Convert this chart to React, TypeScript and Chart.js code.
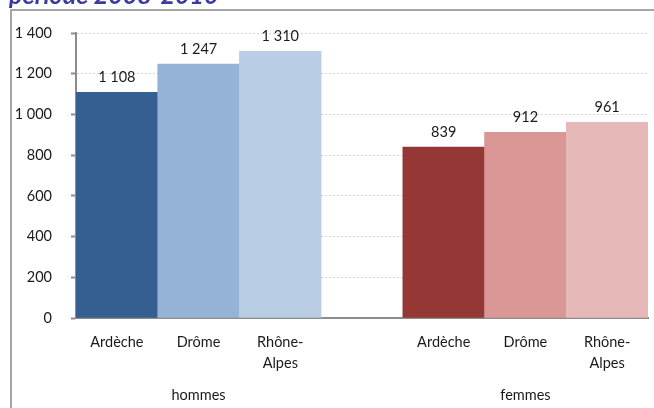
import React, { useEffect, useRef } from "react";
import { Chart, registerables } from "chart.js";

Chart.register(...registerables);

const titleText = "période 2008-2010";
const sexes = ["hommes", "femmes"];
const territories: string[][] = [["Ardèche"], ["Drôme"], ["Rhône-", "Alpes"]];
const hommesValues = [1108, 1247, 1310];
const femmesValues = [839, 912, 961];
const hommesColors = ["#355e91", "#95b3d7", "#b9cde5"];
const femmesColors = ["#953735", "#d99694", "#e6b9b8"];
const yMin = 0;
const yMax = 1400;
const yStep = 200;

const FONT = "Lato, 'Open Sans', sans-serif";
const FS = 14.5;

const fmt = (v: number) => String(v).replace(/\B(?=(\d{3})+(?!\d))/g, " ");

export default function App() {
  const ref = useRef<HTMLCanvasElement | null>(null);

  useEffect(() => {
    if (!ref.current) return;
    const labels: (string | string[])[] = [...territories, "", ...territories];
    const data: (number | null)[] = [...hommesValues, null, ...femmesValues];
    const colors = [...hommesColors, "rgba(0,0,0,0)", ...femmesColors];
    const groupRanges = [
      [0, territories.length - 1],
      [territories.length + 1, territories.length * 2],
    ];

    const framePlugin = {
      id: "frame",
      beforeDraw(chart: any) {
        const ctx = chart.ctx;
        ctx.save();
        ctx.fillStyle = "#ffffff";
        ctx.fillRect(0, 0, chart.width, chart.height);
        ctx.restore();
      },
      afterDraw(chart: any) {
        const ctx = chart.ctx;
        ctx.save();
        ctx.strokeStyle = "#a6a6a6";
        ctx.lineWidth = 2;
        ctx.beginPath();
        ctx.moveTo(11, chart.height + 10);
        ctx.lineTo(11, 10);
        ctx.lineTo(chart.width + 10, 10);
        ctx.stroke();
        ctx.fillStyle = "#3b3b9e";
        ctx.font = `italic bold 25px ${FONT}`;
        ctx.textAlign = "left";
        ctx.textBaseline = "alphabetic";
        ctx.fillText(titleText, 9, 4);
        ctx.restore();
      },
    };

    const labelPlugin = {
      id: "valueLabels",
      afterDatasetsDraw(chart: any) {
        const ctx = chart.ctx;
        const meta = chart.getDatasetMeta(0);
        ctx.save();
        ctx.font = `${FS}px ${FONT}`;
        ctx.fillStyle = "#1a1a1a";
        ctx.textAlign = "center";
        ctx.textBaseline = "middle";
        meta.data.forEach((el: any, i: number) => {
          const v = data[i];
          if (v == null) return;
          ctx.fillText(fmt(v), el.x, el.y - 15);
        });
        ctx.restore();
      },
      afterDraw(chart: any) {
        const ctx = chart.ctx;
        const xs = chart.scales.x;
        ctx.save();
        ctx.font = `${FS}px ${FONT}`;
        ctx.fillStyle = "#1a1a1a";
        ctx.textAlign = "center";
        ctx.textBaseline = "middle";
        sexes.forEach((s, g) => {
          const [a, b] = groupRanges[g];
          const x = (xs.getPixelForValue(a) + xs.getPixelForValue(b)) / 2;
          ctx.fillText(s, x, chart.chartArea.bottom + 77);
        });
        ctx.restore();
      },
    };

    const chart = new Chart(ref.current, {
      type: "bar",
      data: {
        labels,
        datasets: [
          {
            data,
            backgroundColor: colors,
            borderWidth: 0,
            barPercentage: 1,
            categoryPercentage: 1,
          },
        ],
      },
      options: {
        responsive: false,
        animation: false,
        layout: { padding: { top: 33, right: 6, left: 0, bottom: 0 } },
        plugins: {
          legend: { display: false },
          tooltip: { enabled: false },
          title: { display: false },
        },
        scales: {
          x: {
            grid: { display: false, drawTicks: false },
            border: { display: true, color: "#8c8c8c", width: 2 },
            ticks: {
              color: "#1a1a1a",
              font: { family: FONT, size: FS, lineHeight: 1.45 },
              padding: 14,
              maxRotation: 0,
              autoSkip: false,
            },
            afterFit(scale: any) {
              scale.height = 90;
            },
          },
          y: {
            min: yMin,
            max: yMax,
            ticks: {
              stepSize: yStep,
              color: "#1a1a1a",
              font: { family: FONT, size: FS },
              padding: 19,
              callback: (v: any) => fmt(Number(v)),
            },
            grid: {
              color: "#d4d4d4",
              lineWidth: 1,
              tickLength: 5,
              tickColor: "#8c8c8c",
              tickWidth: 2,
              tickBorderDash: [],
            },
            border: { display: true, color: "#8c8c8c", width: 2, dash: [2, 2] },
            afterFit(scale: any) {
              scale.width = 76;
            },
          },
        },
      },
      plugins: [framePlugin, labelPlugin],
    });
    return () => chart.destroy();
  }, []);

  return (
    <div
      style={{
        position: "fixed",
        left: 0,
        top: 0,
        width: 654,
        height: 408,
        overflow: "hidden",
        background: "#ffffff",
        zIndex: 10,
      }}
    >
      <canvas ref={ref} width={654} height={408} style={{ display: "block", width: 654, height: 408 }} />
    </div>
  );
}
